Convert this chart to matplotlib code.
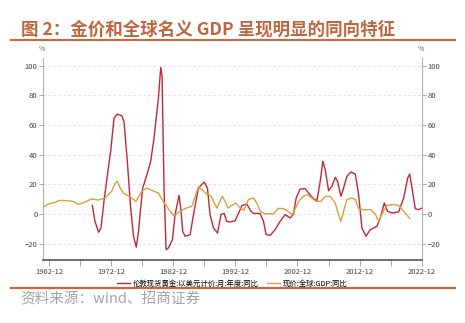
import matplotlib
matplotlib.use("Agg")
import matplotlib.pyplot as plt
from matplotlib.lines import Line2D

plt.rcParams['font.family'] = ['Noto Sans CJK SC', 'DejaVu Sans']

# 伦敦现货黄金 同比 (red) as (decimal year, %)
gold_x = [1969.86, 1970.29, 1970.88, 1971.26, 1971.74, 1972.44, 1972.82, 1973.36, 1973.9, 1974.6,
          1974.97, 1975.5, 1976.04, 1976.5, 1976.95, 1977.3, 1977.55, 1977.98, 1978.63, 1979.27,
          1979.81, 1980.51, 1980.89, 1981.1, 1981.3, 1981.42, 1981.75, 1982.12, 1982.77, 1983.2,
          1983.84, 1984.11, 1984.43, 1984.81, 1985.62, 1986.26, 1986.96, 1987.88, 1988.41, 1988.84,
          1989.38, 1990.03, 1990.6, 1991.1, 1991.5, 1992.06, 1992.87, 1993.57, 1993.94, 1994.75,
          1995.4, 1995.83, 1996.9, 1997.44, 1997.87, 1998.51, 1999.32, 2000.13, 2000.93, 2001.74,
          2002.28, 2002.71, 2003.35, 2004.16, 2004.7, 2005.5, 2006.05, 2006.58, 2007.01, 2007.39,
          2007.93, 2008.46, 2009.0, 2009.38, 2009.92, 2010.35, 2010.88, 2011.53, 2012.23, 2012.77,
          2013.3, 2013.95, 2014.65, 2015.72, 2016.26, 2016.91, 2017.44, 2018.14, 2019.22, 2020.03,
          2020.67, 2021.0, 2021.37, 2021.9, 2022.44, 2022.98]
gold_y = [5.8, -4.9, -12.3, -9.4, 8.5, 31, 42.2, 64.6, 67.3, 66.2,
          62.4, 35.5, 4, -15, -22.4, -12, -0.4, 17.5, 26, 35.5,
          51.2, 78.1, 98.8, 93, 45, 17.5, -24, -22.9, -17.3, -0.4,
          12.6, 4, -11.7, -15, -13.9, 1.8, 17.5, 21.5, 17.5, -0.4,
          -9.4, -12.8, -0.4, 0.5, -4.9, -5.4, -4.5, 1.8, 5.5, 6.8,
          2, 0.4, 0.4, -4.9, -13.9, -14.4, -10.5, -4.9, -0.4, -2.7,
          0, 10.8, 16.8, 17.1, 14.1, 10.3, 9, 22, 35.5, 29.9,
          15.7, 18.6, 24.7, 22, 11.9, 17.5, 25.4, 28.3, 26.9, 13,
          -9.4, -15, -10.5, -8.3, -2.7, 7.4, 1.8, 0.7, 1.3, 10.8,
          24.2, 26.9, 17.5, 3.6, 2.9, 4]

# 现价:全球:GDP 同比 (gold line)
gdp_x = [1961.92, 1962.93, 1963.9, 1964.65, 1965.72, 1966.8, 1967.6, 1968.3, 1969.75, 1970.83,
         1971.9, 1972.98, 1973.5, 1973.9, 1974.3, 1974.86, 1975.94, 1976.9, 1977.82, 1978.6,
         1979.7, 1980.51, 1981.2, 1982.39, 1983.0, 1984.0, 1985.0, 1985.89, 1986.42, 1986.95,
         1987.5, 1988.3, 1989.0, 1989.92, 1990.8, 1991.26, 1991.7, 1992.33, 1992.95, 1993.57,
         1994.3, 1995.0, 1995.83, 1996.36, 1996.9, 1997.6, 1999.0, 1999.86, 2000.67, 2001.3,
         2002.1, 2002.5, 2003.2, 2003.9, 2004.54, 2005.24, 2005.9, 2006.7, 2007.39, 2008.2,
         2009.0, 2009.54, 2009.92, 2010.35, 2010.88, 2011.69, 2012.23, 2012.77, 2013.57, 2014.65,
         2015.45, 2015.99, 2016.53, 2017.34, 2018.41, 2019.22, 2020.03, 2021.0]
gdp_y = [4.5, 7.0, 7.9, 9.2, 9.0, 8.5, 6.5, 7.4, 10.1, 9.4,
         10.8, 15.3, 20.5, 22.0, 18, 14.1, 11.5, 8.5, 15.3, 17.5,
         15.5, 14.1, 9, 1.8, -1.1, 1.8, 4, 5.2, 11.5, 18.3,
         16.4, 13.5, 12, 4, 12, 8.5, 4, 5.8, 7.4, 4.5,
         2.5, 9.7, 10.8, 7.4, 2.0, 0.2, 0, 3.8, 3.6, 2.0,
         -0.4, 3, 9, 12, 13, 10.8, 8.5, 8.5, 11.9, 11.9,
         7.4, -0.4, -4.9, 1.8, 9.7, 10.8, 9.7, 3.6, 2.9, 2.9,
         0, -4.9, 0, 5.8, 6.3, 5.8, 1.8, -2.9]

x_ticks = [1962.92 + 10 * i for i in range(7)]
x_labels = ["1962-12", "1972-12", "1982-12", "1992-12", "2002-12", "2012-12", "2022-12"]
y_ticks = [-20, 0, 20, 40, 60, 80, 100]

RED = "#c0283a"
GOLD = "#d9a040"
ACCENT = "#c8683c"

fig = plt.figure(figsize=(4.65, 3.23), dpi=100)
ax = fig.add_axes([0.0925, 0.195, 0.815, 0.625])

ax.plot(gold_x, gold_y, color=RED, lw=1.0, label="伦敦现货黄金:以美元计价:月:年度:同比")
ax.plot(gdp_x, gdp_y, color=GOLD, lw=1.0, label="现价:全球:GDP:同比")

ax.set_xlim(1961.92, 2022.98)
ax.set_ylim(-31, 105)
ax.set_yticks(y_ticks)
ax.set_xticks(x_ticks)
ax.set_xticklabels(x_labels)
ax.set_xticks([t + 5 for t in x_ticks[:-1]], minor=True)

ax.grid(axis="y", color="#dddddd", ls=(0, (3, 3)), lw=0.6)
ax.set_axisbelow(True)

for s in ["left", "right"]:
    ax.spines[s].set_color("#b0b0b0")
    ax.spines[s].set_linewidth(0.8)
ax.spines["top"].set_visible(False)
ax.spines["bottom"].set_color("#555555")
ax.spines["bottom"].set_linewidth(1.2)

ax.tick_params(axis="y", which="both", left=True, right=True, labelleft=True, labelright=True,
               length=3, width=0.6, color="#999999", labelsize=5.5, labelcolor="#444444", pad=1)
ax.tick_params(axis="x", which="both", length=4, width=0.6, color="#999999",
               labelsize=5.5, labelcolor="#444444", pad=1.5)

fig.text(0.0903, 0.848, "%", fontsize=5, color="#666666", ha="center", va="center")
fig.text(0.906, 0.848, "%", fontsize=5, color="#666666", ha="center", va="center")

# title, rules and source
fig.text(0.045, 0.907, "图 2：金价和全球名义 GDP 呈现明显的同向特征", fontsize=12.6,
         fontweight="bold", color="#c0663e", ha="left", va="center")
fig.add_artist(Line2D([0.024, 0.978], [0.875, 0.875], color=ACCENT, lw=1.5))
fig.add_artist(Line2D([0.024, 0.978], [0.108, 0.108], color=ACCENT, lw=1.6))
fig.text(0.043, 0.072, "资料来源：wind、招商证券", fontsize=10.5, color="#a4a4aa",
         ha="left", va="center")

ax.legend(loc="center", bbox_to_anchor=(0.5, -0.118), ncol=2, frameon=False,
          fontsize=5.3, handlelength=1.75, handletextpad=0.4, columnspacing=1.1)

fig.savefig("out.png", dpi=100)
